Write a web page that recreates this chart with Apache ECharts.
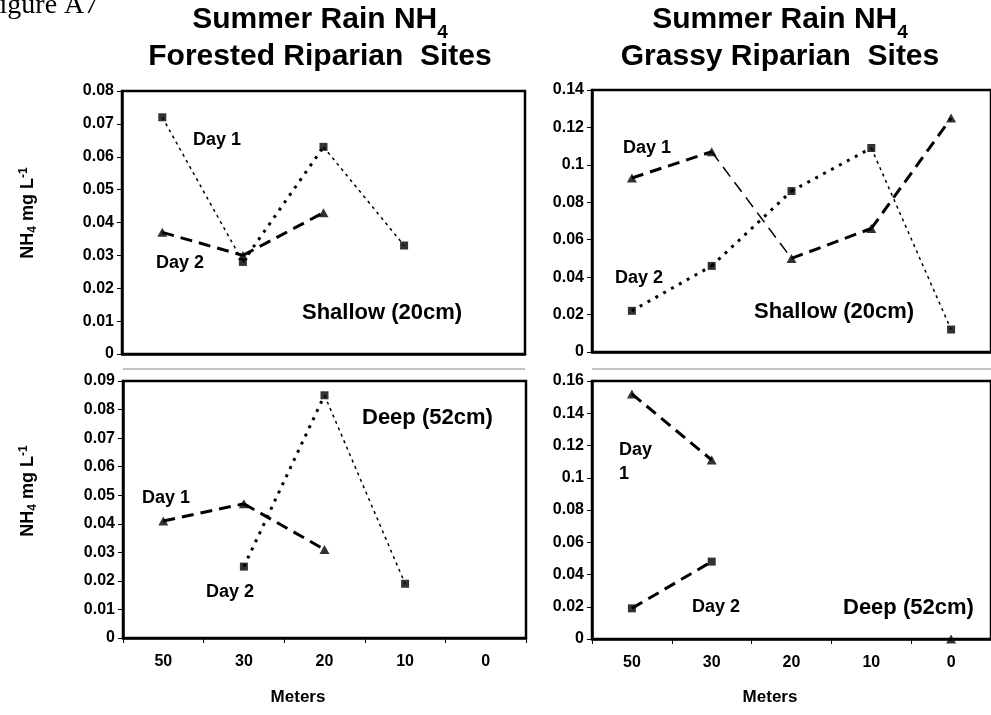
<!DOCTYPE html>
<html><head><meta charset="utf-8">
<script src="https://cdn.jsdelivr.net/npm/echarts@6/dist/echarts.min.js"></script>
<style>html,body{margin:0;padding:0;background:#fff}#c{width:991px;height:715px}</style>
</head><body><div id="c"></div>
<script>
// ---------------- data ----------------
const categories = ['50', '30', '20', '10', '0'];
// Forested riparian, shallow (20cm)
const forShallowDay1 = [0.072, 0.028, 0.063, 0.033, null];
const forShallowDay2 = [0.037, 0.030, 0.043, null, null];
// Grassy riparian, shallow (20cm)
const grassShallowDay1 = [0.093, 0.107, 0.050, 0.066, 0.125];
const grassShallowDay2 = [0.022, 0.046, 0.086, 0.109, 0.012];
// Forested riparian, deep (52cm)
const forDeepDay1 = [0.041, 0.047, 0.031, null, null];
const forDeepDay2 = [null, 0.025, 0.085, 0.019, null];
// Grassy riparian, deep (52cm)
const grassDeepDay1 = [0.152, 0.111, null, null, 0];
const grassDeepDay2 = [0.019, 0.048, null, null, null];
// y-axis ranges
const yMax = [0.08, 0.14, 0.09, 0.16];
const yStep = [0.01, 0.02, 0.01, 0.02];

// ---------------- styles ----------------
const FONT = '"Liberation Sans", Arial, sans-serif';
const lineStyles = {
  thin:    { width: 1.5, type: [3, 4] },
  heavy:   { width: 3,   type: [3, 6] },
  dash:    { width: 3,   type: [12, 7] },
  thinDash:{ width: 1.5, type: [12, 7] }
};
const grids = [
  { left: 122, top: 91,  width: 403, height: 263 },
  { left: 592, top: 90,  width: 403, height: 262 },
  { left: 123, top: 381, width: 403, height: 257 },
  { left: 592, top: 381, width: 403, height: 258 }
];
// [values, marker, segment styles, grid index]
const seriesDefs = [
  [forShallowDay1,   'rect',     ['thin', 'heavy', 'thin', 'thin'], 0],
  [forShallowDay2,   'triangle', ['dash', 'dash', 'dash', 'dash'], 0],
  [grassShallowDay1, 'triangle', ['dash', 'thinDash', 'dash', 'dash'], 1],
  [grassShallowDay2, 'rect',     ['heavy', 'heavy', 'heavy', 'thin'], 1],
  [forDeepDay1,      'triangle', ['dash', 'dash', 'dash', 'dash'], 2],
  [forDeepDay2,      'rect',     ['heavy', 'heavy', 'thin', 'thin'], 2],
  [grassDeepDay1,    'triangle', ['dash', 'dash', 'dash', 'dash'], 3],
  [grassDeepDay2,    'rect',     ['dash', 'dash', 'dash', 'dash'], 3]
];

const series = [];
seriesDefs.forEach(([vals, marker, segs, g]) => {
  for (let i = 0; i < vals.length - 1; i++) {
    if (vals[i] == null || vals[i + 1] == null) continue;
    const d = vals.map((v, j) => (j === i || j === i + 1) ? v : '-');
    const ls = lineStyles[segs[i]];
    series.push({
      type: 'line', xAxisIndex: g, yAxisIndex: g, data: d,
      showSymbol: false, symbol: 'none', silent: true, animation: false,
      lineStyle: { color: '#000', width: ls.width, type: ls.type, cap: 'butt' }
    });
  }
  series.push({
    type: 'scatter', xAxisIndex: g, yAxisIndex: g, clip: false, animation: false,
    data: vals.map(v => v == null ? '-' : v),
    symbol: marker, symbolSize: marker === 'rect' ? 8 : [10, 9],
    itemStyle: { color: '#000' }, z: 5
  });
});

const xAxis = grids.map((g, i) => ({
  type: 'category', gridIndex: i, data: categories, boundaryGap: true,
  axisLine: { show: true, lineStyle: { color: '#000', width: 2.5 } },
  axisTick: { show: i >= 2, length: 5, lineStyle: { color: '#000', width: 1 } },
  axisLabel: { show: i >= 2, fontSize: 16, fontWeight: 'bold', color: '#000', fontFamily: FONT, margin: 16 },
  splitLine: { show: false }
}));
const yAxis = grids.map((g, i) => ({
  type: 'value', gridIndex: i, min: 0, max: yMax[i], interval: yStep[i],
  axisLine: { show: true, lineStyle: { color: '#000', width: 2.5 } },
  axisTick: { show: true, length: 5, lineStyle: { color: '#000', width: 1 } },
  axisLabel: { fontSize: 16, fontWeight: 'bold', color: '#000', fontFamily: FONT, margin: 8 },
  splitLine: { show: false }
}));

function txt(x, y, text, size, align) {
  return {
    type: 'text', x: x, y: y, silent: true,
    style: { text: text, fontSize: size, fontWeight: 'bold', fontFamily: FONT, fill: '#000',
             align: align || 'left', verticalAlign: 'middle' }
  };
}
const measureCtx = document.createElement('canvas').getContext('2d');
function textWidth(t, size) {
  measureCtx.font = 'bold ' + size + 'px ' + FONT;
  return measureCtx.measureText(t).width;
}
// title: first line with subscript "4", second line plain
function titleEls(cx, line1, line2) {
  const w1 = textWidth(line1, 30), ws = textWidth('4', 19);
  const left = cx - (w1 + ws) / 2;
  return [
    txt(left, 20, line1, 30, 'left'),
    txt(left + w1, 33, '4', 19, 'left'),
    txt(cx, 57, line2, 30, 'center')
  ];
}
function yTitle(x, y) {
  return {
    type: 'text', x: x, y: y, rotation: Math.PI / 2, silent: true,
    style: {
      text: '{t|NH}{s|4}{t| mg L}{p|-1}',
      align: 'center', verticalAlign: 'middle', fill: '#000',
      rich: {
        t: { fontSize: 18, fontWeight: 'bold', fontFamily: FONT, lineHeight: 20 },
        s: { fontSize: 12, fontWeight: 'bold', fontFamily: FONT, lineHeight: 12, padding: [10, 0, 0, 0] },
        p: { fontSize: 12, fontWeight: 'bold', fontFamily: FONT, lineHeight: 12, padding: [0, 0, 9, 0] }
      }
    }
  };
}

const graphic = [
  { type: 'text', x: -16, y: 6, silent: true,
    style: { text: 'Figure A7', fontSize: 28, fontFamily: '"Liberation Serif", "Times New Roman", serif', fill: '#000', verticalAlign: 'middle' } },
  ...titleEls(320, 'Summer Rain NH', 'Forested Riparian  Sites'),
  ...titleEls(780, 'Summer Rain NH', 'Grassy Riparian  Sites'),
  yTitle(28, 213),
  yTitle(28, 491),
  // light gray separator lines
  { type: 'line', silent: true, shape: { x1: 123, y1: 369, x2: 525, y2: 369 }, style: { stroke: '#b0b0b0', lineWidth: 1.5 } },
  { type: 'line', silent: true, shape: { x1: 592, y1: 369, x2: 991, y2: 369 }, style: { stroke: '#b0b0b0', lineWidth: 1.5 } },
  // annotations
  txt(193, 140, 'Day 1', 18),
  txt(156, 263, 'Day 2', 18),
  txt(302, 313, 'Shallow (20cm)', 22),
  txt(623, 148, 'Day 1', 18),
  txt(615, 278, 'Day 2', 18),
  txt(754, 312, 'Shallow (20cm)', 22),
  txt(362, 418, 'Deep (52cm)', 22),
  txt(142, 498, 'Day 1', 18),
  txt(206, 592, 'Day 2', 18),
  txt(619, 450, 'Day', 18),
  txt(619, 474, '1', 18),
  txt(692, 607, 'Day 2', 18),
  txt(843, 608, 'Deep (52cm)', 22),
  txt(298, 697, 'Meters', 17, 'center'),
  txt(770, 697, 'Meters', 17, 'center')
];

const chart = echarts.init(document.getElementById('c'), null, { renderer: 'canvas' });
chart.setOption({
  backgroundColor: '#fff',
  animation: false,
  grid: grids.map(g => Object.assign({ show: true, borderColor: '#000', borderWidth: 2.5, backgroundColor: 'transparent', containLabel: false }, g)),
  xAxis: xAxis,
  yAxis: yAxis,
  series: series,
  graphic: graphic
});
</script>
</body></html>
